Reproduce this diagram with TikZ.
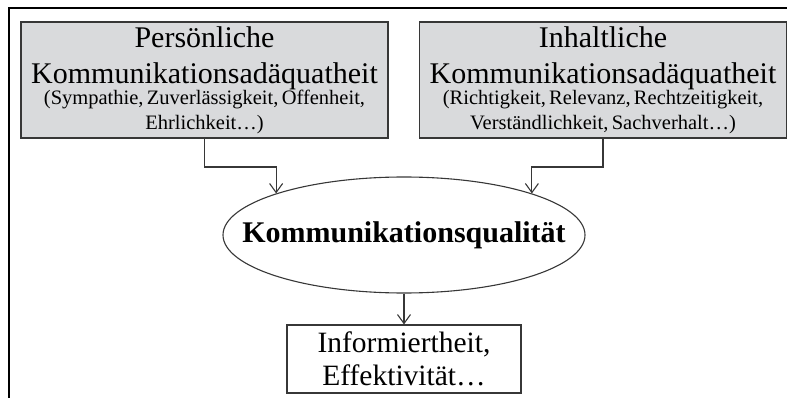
\documentclass[tikz,border=0pt]{standalone}
\usepackage{fontspec}
\setmainfont{Liberation Serif}
\usetikzlibrary{shapes.geometric,arrows.meta,calc}
\definecolor{boxfill}{RGB}{217,218,220}
\definecolor{linegray}{RGB}{55,55,55}
\tikzset{
  topbox/.style={draw=linegray, line width=1.1pt, fill=boxfill, minimum width=367pt, minimum height=116pt, inner sep=0pt, text width=367pt, align=center},
  arr/.style={draw=linegray, line width=1.1pt, -{Straight Barb[length=9pt,width=13pt,line width=1.1pt]}},
}
\begin{document}
\begin{tikzpicture}[x=1pt,y=-1pt]
\useasboundingbox (0,0) rectangle (787,398);
\draw[line width=1.4pt] (9,398) -- (9,8) -- (790,8);
\node[topbox] (L) at (204.5,80) {\fontsize{30}{36}\selectfont Persönliche\\Kommunikationsadäquatheit\par\vspace{-4pt}\fontsize{20.5}{25}\selectfont(Sympathie, Zuverlässigkeit, Offenheit,\\Ehrlichkeit\ldots)\par};
\node[topbox] (R) at (603,80) {\fontsize{30}{36}\selectfont Inhaltliche\\Kommunikationsadäquatheit\par\vspace{-4pt}\fontsize{20.5}{25}\selectfont(Richtigkeit, Relevanz, Rechtzeitigkeit,\\Verständlichkeit, Sachverhalt\ldots)\par};
\node[ellipse, draw=linegray, line width=1.1pt, minimum width=362pt, minimum height=116pt, inner xsep=-40pt, inner ysep=0pt, font=\fontsize{30}{32}\selectfont\bfseries] (K) at (404,235) {Kommunikationsqualität};
\node[draw=linegray, line width=1.1pt, minimum width=234pt, minimum height=68pt, inner sep=0pt, align=center, font=\fontsize{29.5}{33}\selectfont] (B) at (404,359) {Informiertheit,\\Effektivität\ldots};
\draw[arr] (L.south) -- (L.south |- 0,167) -| (K.162);
\draw[arr] (R.south) -- (R.south |- 0,167) -| (K.18);
\draw[arr] (K.south) -- (B.north);
\end{tikzpicture}
\end{document}
